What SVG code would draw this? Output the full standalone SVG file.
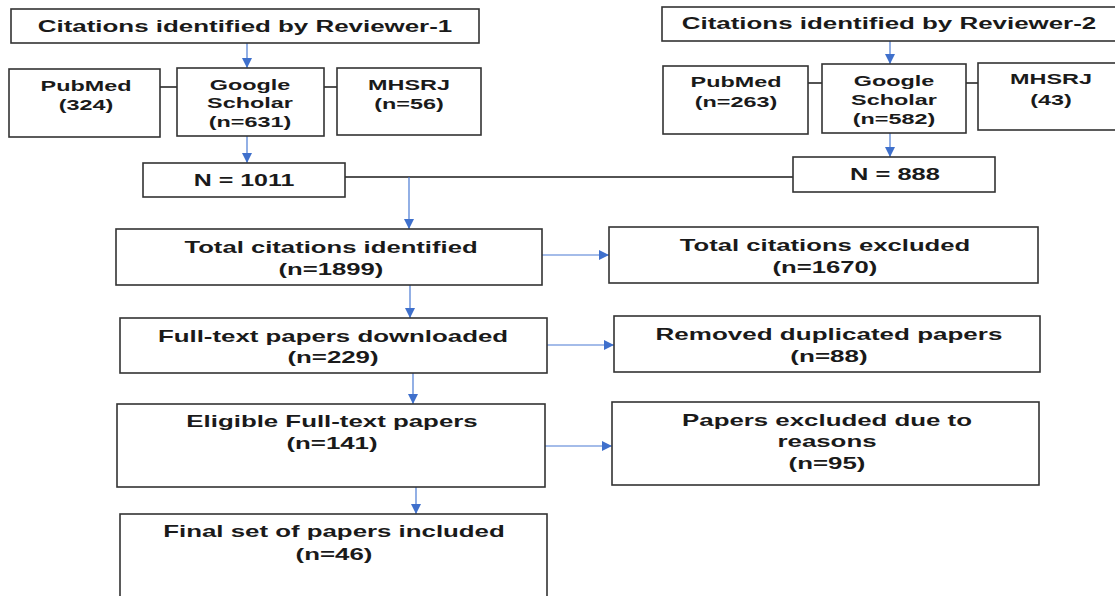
<svg xmlns="http://www.w3.org/2000/svg" width="1115" height="596" viewBox="0 0 1115 596">
<defs>
<style>
.box{fill:#fff;stroke:#333;stroke-width:1.6}
text{font-family:"Liberation Sans",Arial,sans-serif;font-weight:bold;fill:#1a1a1a;text-anchor:middle}
.h{font-size:16px}
.s{font-size:15px}
.n{font-size:16px}
.m{font-size:17px}
.blk{stroke:#1a1a1a;stroke-width:1.5;fill:none}
.blu{stroke:#4a7bd4;stroke-width:1.2;fill:none;marker-end:url(#ah)}
</style>
<marker id="ah" viewBox="0 0 10 10" refX="10" refY="5" markerWidth="10" markerHeight="10" markerUnits="userSpaceOnUse" orient="auto">
<path d="M0,0 L10,5 L0,10 z" fill="#3f70cc"/>
</marker>
</defs>
<rect width="1115" height="596" fill="#fff"/>
<g id="connectors">
<line class="blk" x1="160" y1="87" x2="177" y2="87"/>
<line class="blk" x1="324" y1="87" x2="337" y2="87"/>
<line class="blk" x1="808" y1="83" x2="822" y2="83"/>
<line class="blk" x1="966" y1="83" x2="978" y2="83"/>
<line class="blk" x1="345" y1="177" x2="793" y2="177"/>
<line class="blu" x1="247" y1="43" x2="247" y2="68"/>
<line class="blu" x1="247" y1="136" x2="247" y2="163"/>
<line class="blu" x1="890" y1="41" x2="890" y2="64"/>
<line class="blu" x1="890" y1="133" x2="890" y2="157"/>
<line class="blu" x1="409" y1="177" x2="409" y2="229"/>
<line class="blu" x1="542" y1="255" x2="609" y2="255"/>
<line class="blu" x1="410" y1="285" x2="410" y2="318"/>
<line class="blu" x1="547" y1="345" x2="614" y2="345"/>
<line class="blu" x1="413" y1="373" x2="413" y2="404"/>
<line class="blu" x1="545" y1="446" x2="612" y2="446"/>
<line class="blu" x1="416" y1="487" x2="416" y2="514"/>
</g>
<g id="reviewer1">
<rect class="box" x="11" y="9" width="468" height="34"/>
<text class="h" transform="translate(245,0) scale(1.62,1)"><tspan x="0" y="32">Citations identified by Reviewer-1</tspan></text>
</g>
<g id="pubmed1">
<rect class="box" x="9" y="69" width="151" height="68"/>
<text class="s" transform="translate(86,0) scale(1.56,1)"><tspan x="0" y="91">PubMed</tspan><tspan x="0" y="110">(324)</tspan></text>
</g>
<g id="google1">
<rect class="box" x="177" y="68" width="147" height="68"/>
<text class="s" transform="translate(250,0) scale(1.56,1)"><tspan x="0" y="90">Google</tspan><tspan x="0" y="108">Scholar</tspan><tspan x="0" y="127">(n=631)</tspan></text>
</g>
<g id="mhsrj1">
<rect class="box" x="337" y="68" width="144" height="67"/>
<text class="s" transform="translate(409,0) scale(1.56,1)"><tspan x="0" y="90">MHSRJ</tspan><tspan x="0" y="109">(n=56)</tspan></text>
</g>
<g id="n1011">
<rect class="box" x="143" y="163" width="202" height="34"/>
<text class="n" transform="translate(244,0) scale(1.56,1)"><tspan x="0" y="186">N = 1011</tspan></text>
</g>
<g id="reviewer2">
<rect class="box" x="662" y="7" width="462" height="34"/>
<text class="h" transform="translate(889,0) scale(1.62,1)"><tspan x="0" y="29">Citations identified by Reviewer-2</tspan></text>
</g>
<g id="pubmed2">
<rect class="box" x="663" y="66" width="145" height="68"/>
<text class="s" transform="translate(736,0) scale(1.56,1)"><tspan x="0" y="87">PubMed</tspan><tspan x="0" y="107">(n=263)</tspan></text>
</g>
<g id="google2">
<rect class="box" x="822" y="64" width="144" height="69"/>
<text class="s" transform="translate(894,0) scale(1.56,1)"><tspan x="0" y="86">Google</tspan><tspan x="0" y="105">Scholar</tspan><tspan x="0" y="124">(n=582)</tspan></text>
</g>
<g id="mhsrj2">
<rect class="box" x="978" y="63" width="146" height="67"/>
<text class="s" transform="translate(1051,0) scale(1.56,1)"><tspan x="0" y="84">MHSRJ</tspan><tspan x="0" y="105">(43)</tspan></text>
</g>
<g id="n888">
<rect class="box" x="793" y="157" width="202" height="35"/>
<text class="n" transform="translate(895,0) scale(1.59,1)"><tspan x="0" y="180">N = 888</tspan></text>
</g>
<g id="total-identified">
<rect class="box" x="116" y="229" width="426" height="56"/>
<text class="m" transform="translate(331,0) scale(1.51,1)"><tspan x="0" y="253">Total citations identified</tspan><tspan x="0" y="275">(n=1899)</tspan></text>
</g>
<g id="total-excluded">
<rect class="box" x="609" y="227" width="429" height="56"/>
<text class="m" transform="translate(825,0) scale(1.51,1)"><tspan x="0" y="251">Total citations excluded</tspan><tspan x="0" y="273">(n=1670)</tspan></text>
</g>
<g id="full-text">
<rect class="box" x="120" y="318" width="427" height="55"/>
<text class="m" transform="translate(333,0) scale(1.52,1)"><tspan x="0" y="342">Full-text papers downloaded</tspan><tspan x="0" y="363">(n=229)</tspan></text>
</g>
<g id="removed-duplicates">
<rect class="box" x="614" y="316" width="426" height="56"/>
<text class="m" transform="translate(829,0) scale(1.53,1)"><tspan x="0" y="340">Removed duplicated papers</tspan><tspan x="0" y="362">(n=88)</tspan></text>
</g>
<g id="eligible">
<rect class="box" x="117" y="404" width="428" height="83"/>
<text class="m" transform="translate(332,0) scale(1.52,1)"><tspan x="0" y="427">Eligible Full-text papers</tspan><tspan x="0" y="449">(n=141)</tspan></text>
</g>
<g id="papers-excluded">
<rect class="box" x="612" y="402" width="427" height="83"/>
<text class="m" transform="translate(827,0) scale(1.52,1)"><tspan x="0" y="426">Papers excluded due to</tspan><tspan x="0" y="447">reasons</tspan><tspan x="0" y="469">(n=95)</tspan></text>
</g>
<g id="final-set">
<rect class="box" x="120" y="514" width="427" height="90"/>
<text class="m" transform="translate(334,0) scale(1.52,1)"><tspan x="0" y="537">Final set of papers included</tspan><tspan x="0" y="560">(n=46)</tspan></text>
</g>
</svg>
